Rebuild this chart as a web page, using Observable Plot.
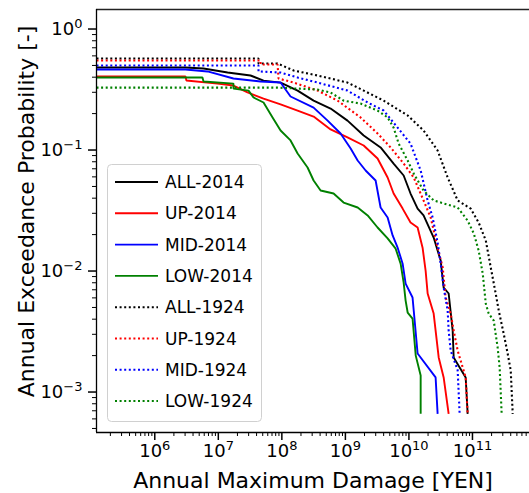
<!DOCTYPE html>
<html><head><meta charset="utf-8">
<script src="https://cdn.jsdelivr.net/npm/d3@7"></script>
<script src="https://cdn.jsdelivr.net/npm/@observablehq/plot@0.6"></script>
<style>
body{margin:0;background:#fff;}
#wrap{position:relative;width:529px;height:493px;overflow:hidden;font-family:"DejaVu Sans",sans-serif;}
#legend{position:absolute;left:0;top:0;}
</style></head><body><div id="wrap"></div>
<script>
const seriesNames = ["ALL-2014","UP-2014","MID-2014","LOW-2014","ALL-1924","UP-1924","MID-1924","LOW-1924"];
const seriesColors = ["#000000","#ff0000","#0000ff","#008000","#000000","#ff0000","#0000ff","#008000"];
const seriesDotted = [false,false,false,false,true,true,true,true];

const xLabel = "Annual Maximum Damage [YEN]";
const yLabel = "Annual Exceedance Probability [-]";
const xTicks = [1e6,1e7,1e8,1e9,1e10,1e11];
const xTickLabels = ["10^6","10^7","10^8","10^9","10^10","10^11"];
const yTicks = [1e-3,1e-2,1e-1,1];
const yTickLabels = ["10^\u22123","10^\u22122","10^\u22121","10^0"];
const xDomain = [1.21e5, 7.9e11];
const yDomain = [4.63e-4, 1.45];

const all2014Damage = [1.21e5,3.04e6,5.85e6,1.40e7,3.21e7,5.15e7,9.55e7,1.77e8,3.16e8,5.85e8,1.08e9,1.94e9,3.58e9,5.74e9,8.26e9,1.06e10,1.37e10,1.70e10,2.45e10,3.16e10,3.52e10,4.22e10,4.88e10,5.06e10,7.82e10,8.40e10];
const all2014Prob   = [0.481,0.481,0.472,0.437,0.413,0.375,0.361,0.310,0.256,0.220,0.175,0.132,0.105,0.0773,0.0616,0.0437,0.0328,0.0288,0.0189,0.0122,0.0073,0.00652,0.00322,0.00193,0.00132,0.00066];

const up2014Damage = [1.21e5,3.04e6,3.15e6,9.7e6,1.73e7,2.88e7,5.15e7,9.55e7,1.77e8,3.16e8,5.85e8,1.08e9,1.94e9,3.21e9,4.62e9,5.74e9,7.96e9,1.06e10,1.37e10,1.64e10,1.83e10,1.97e10,2.45e10,2.94e10,3.52e10,4.22e10];
const up2014Prob   = [0.405,0.405,0.375,0.354,0.341,0.299,0.266,0.238,0.212,0.189,0.148,0.127,0.109,0.0851,0.0593,0.0437,0.0328,0.0252,0.0229,0.0156,0.0101,0.00652,0.00445,0.00193,0.00132,0.00066];

const mid2014Damage = [1.21e5,3.04e6,6.76e6,1.73e7,4.62e7,9.55e7,1.37e8,3.16e8,5.25e8,8.4e8,1.21e9,1.56e9,2.08e9,2.99e9,3.58e9,4.62e9,5.54e9,6.64e9,7.96e9,8.87e9,1.14e10,1.19e10,1.37e10,2.63e10,2.83e10];
const mid2014Prob   = [0.463,0.463,0.446,0.390,0.368,0.361,0.277,0.224,0.175,0.137,0.103,0.0819,0.0677,0.0560,0.0335,0.0277,0.0197,0.0156,0.0115,0.00788,0.00604,0.00472,0.00208,0.00132,0.00066];

const low2014Damage = [1.21e5,5.63e6,5.85e6,1.73e7,1.73e7,2.99e7,3.58e7,5.15e7,7.14e7,9.55e7,1.37e8,1.77e8,2.54e8,3.16e8,4.07e8,6.52e8,9.37e8,1.56e9,2.24e9,3.21e9,4.62e9,6.18e9,7.4e9,8.26e9,8.87e9,9.55e9,1.14e10,1.28e10,1.53e10,1.53e10];
const low2014Prob   = [0.397,0.397,0.368,0.354,0.322,0.310,0.272,0.247,0.186,0.145,0.120,0.0936,0.0717,0.0560,0.0463,0.0437,0.0368,0.0335,0.0288,0.0229,0.0186,0.0153,0.0115,0.00803,0.0057,0.00454,0.00405,0.0020,0.00137,0.00066];

const all1924Damage = [1.21e5,4.29e7,4.29e7,8.56e7,1.53e8,3.65e8,1.08e9,1.94e9,4.0e9,9.55e9,1.70e10,2.83e10,4.07e10,5.85e10,9.37e10,1.25e11,1.62e11,1.94e11,2.32e11,2.59e11,3.10e11,3.58e11,4.0e11,4.30e11];
const all1924Prob   = [0.570,0.570,0.519,0.519,0.454,0.413,0.361,0.310,0.256,0.193,0.145,0.0991,0.0593,0.0383,0.0328,0.0252,0.0179,0.0107,0.00652,0.00472,0.00304,0.00208,0.00151,0.00066];

const up1924Damage = [1.21e5,4.62e7,4.62e7,8.56e7,8.87e7,1.53e8,3.65e8,7.54e8,1.73e9,3.21e9,5.15e9,8.26e9,1.19e10,1.70e10,2.20e10,2.83e10,3.40e10,3.78e10,4.54e10,5.06e10,5.85e10,7.82e10,8.40e10];
const up1924Prob   = [0.549,0.549,0.509,0.509,0.390,0.361,0.310,0.256,0.186,0.137,0.105,0.0773,0.0593,0.0383,0.0277,0.0156,0.0107,0.00604,0.00445,0.00322,0.0022,0.00132,0.00066];

const mid1924Damage = [1.21e5,4.29e7,4.29e7,9.55e7,1.77e8,3.65e8,1.08e9,2.24e9,4.0e9,6.64e9,1.06e10,1.53e10,1.97e10,2.36e10,2.83e10,3.16e10,3.52e10,4.07e10,4.22e10,4.54e10,5.85e10,6.28e10];
const mid1924Prob   = [0.499,0.499,0.446,0.437,0.397,0.361,0.310,0.247,0.212,0.153,0.113,0.0677,0.0383,0.0277,0.0172,0.0115,0.0073,0.00472,0.00322,0.0022,0.00151,0.00066];

const low1924Damage = [1.21e5,8.56e7,3.65e8,5.85e8,9.37e8,1.73e9,3.21e9,4.62e9,5.74e9,6.89e9,9.55e9,1.19e10,1.70e10,2.45e10,4.07e10,5.85e10,8.40e10,1.05e11,1.25e11,1.45e11,1.62e11,1.80e11,2.16e11,2.49e11,2.68e11,2.88e11];
const low1924Prob   = [0.328,0.328,0.316,0.299,0.256,0.242,0.212,0.186,0.153,0.113,0.0819,0.0639,0.0463,0.0383,0.0354,0.0335,0.0261,0.0204,0.0148,0.00954,0.00538,0.00445,0.0039,0.00233,0.00159,0.00066];

const seriesDamage = [all2014Damage,up2014Damage,mid2014Damage,low2014Damage,all1924Damage,up1924Damage,mid1924Damage,low1924Damage];
const seriesProb = [all2014Prob,up2014Prob,mid2014Prob,low2014Prob,all1924Prob,up1924Prob,mid1924Prob,low1924Prob];

// minor ticks (2..9 per decade) within domain
function minorTicks(lo, hi) {
  const out = [];
  for (let e = Math.floor(Math.log10(lo)); e <= Math.ceil(Math.log10(hi)); e++)
    for (let k = 2; k <= 9; k++) { const v = k * Math.pow(10, e); if (v >= lo && v <= hi) out.push(v); }
  return out;
}
const xMinor = minorTicks(xDomain[0], xDomain[1]);
const yMinor = minorTicks(yDomain[0], yDomain[1]);

const lineMarks = seriesNames.map((name, i) => {
  const data = seriesDamage[i].map((d, j) => ({damage: d, prob: seriesProb[i][j]}));
  return Plot.line(data, {
    x: "damage", y: "prob", stroke: seriesColors[i],
    strokeWidth: seriesDotted[i] ? 2.1 : 1.9,
    strokeDasharray: seriesDotted[i] ? "2,2.6" : null,
    strokeLinecap: "butt", strokeLinejoin: "miter", clip: true
  });
});

const fmt = (ticks, labels) => v => labels[ticks.indexOf(v)];

const chart = Plot.plot({
  width: 529, height: 493,
  marginLeft: 96, marginRight: 0, marginTop: 9, marginBottom: 61,
  style: {fontFamily: "DejaVu Sans", background: "white", color: "black"},
  x: {type: "log", domain: xDomain},
  y: {type: "log", domain: yDomain},
  marks: [
    ...lineMarks,
    Plot.ruleY([yDomain[1]], {stroke: "#222", strokeWidth: 1.3}),
    Plot.ruleY([yDomain[0]], {stroke: "black", strokeWidth: 1.3}),
    Plot.ruleX([xDomain[0]], {stroke: "black", strokeWidth: 1.3}),
    Plot.axisX({ticks: xMinor, tickSize: 4, tickFormat: () => "", strokeWidth: 1, label: null}),
    Plot.axisX({ticks: xTicks, tickSize: 8, tickPadding: 4, tickFormat: fmt(xTicks, xTickLabels), fontSize: 18, strokeWidth: 1.5, label: null}),
    Plot.axisY({ticks: yMinor, tickSize: 4, tickFormat: () => "", strokeWidth: 1, label: null}),
    Plot.axisY({ticks: yTicks, tickSize: 8, tickPadding: 6, tickFormat: fmt(yTicks, yTickLabels), fontSize: 18, strokeWidth: 1.5, label: null}),
    Plot.text([xLabel], {frameAnchor: "bottom", textAnchor: "middle", lineAnchor: "middle", text: d => d, dy: 48, fontSize: 22, fill: "black"}),
    Plot.text([yLabel], {frameAnchor: "left", textAnchor: "middle", lineAnchor: "middle", text: d => d, rotate: -90, dx: -70, dy: -9.5, fontSize: 22, fill: "black"})
  ]
});

// superscripts for tick labels
const ns = "http://www.w3.org/2000/svg";
chart.querySelectorAll("text").forEach(t => {
  const s = t.textContent;
  if (s.includes("^")) {
    const [base, exp] = s.split("^");
    t.textContent = "";
    const a = document.createElementNS(ns, "tspan"); a.textContent = base;
    const b = document.createElementNS(ns, "tspan"); b.textContent = exp;
    b.setAttribute("dy", "-7"); b.setAttribute("font-size", "13px");
    t.append(a, b);
  }
});

const wrap = document.getElementById("wrap");
wrap.appendChild(chart);

// legend overlay
const lg = d3.select(wrap).append("svg").attr("id", "legend").attr("width", 529).attr("height", 493);
const box = {x: 107, y: 164, w: 154, h: 257};
lg.append("rect").attr("x", box.x + 0.5).attr("y", box.y + 0.5).attr("width", box.w).attr("height", box.h)
  .attr("rx", 4).attr("fill", "white").attr("fill-opacity", 0.8).attr("stroke", "#d0d0d0").attr("stroke-width", 1);
const rowH = 31.3;
seriesNames.forEach((name, i) => {
  const cy = box.y + 18 + i * rowH;
  lg.append("line").attr("x1", 115).attr("x2", 158).attr("y1", cy).attr("y2", cy)
    .attr("stroke", seriesColors[i]).attr("stroke-width", seriesDotted[i] ? 2 : 1.9)
    .attr("stroke-dasharray", seriesDotted[i] ? "2,2.6" : null);
  lg.append("text").attr("x", 165).attr("y", cy).attr("dy", "0.36em").attr("font-size", 17)
    .attr("font-family", "DejaVu Sans").attr("fill", "black").text(name);
});
</script></body></html>
